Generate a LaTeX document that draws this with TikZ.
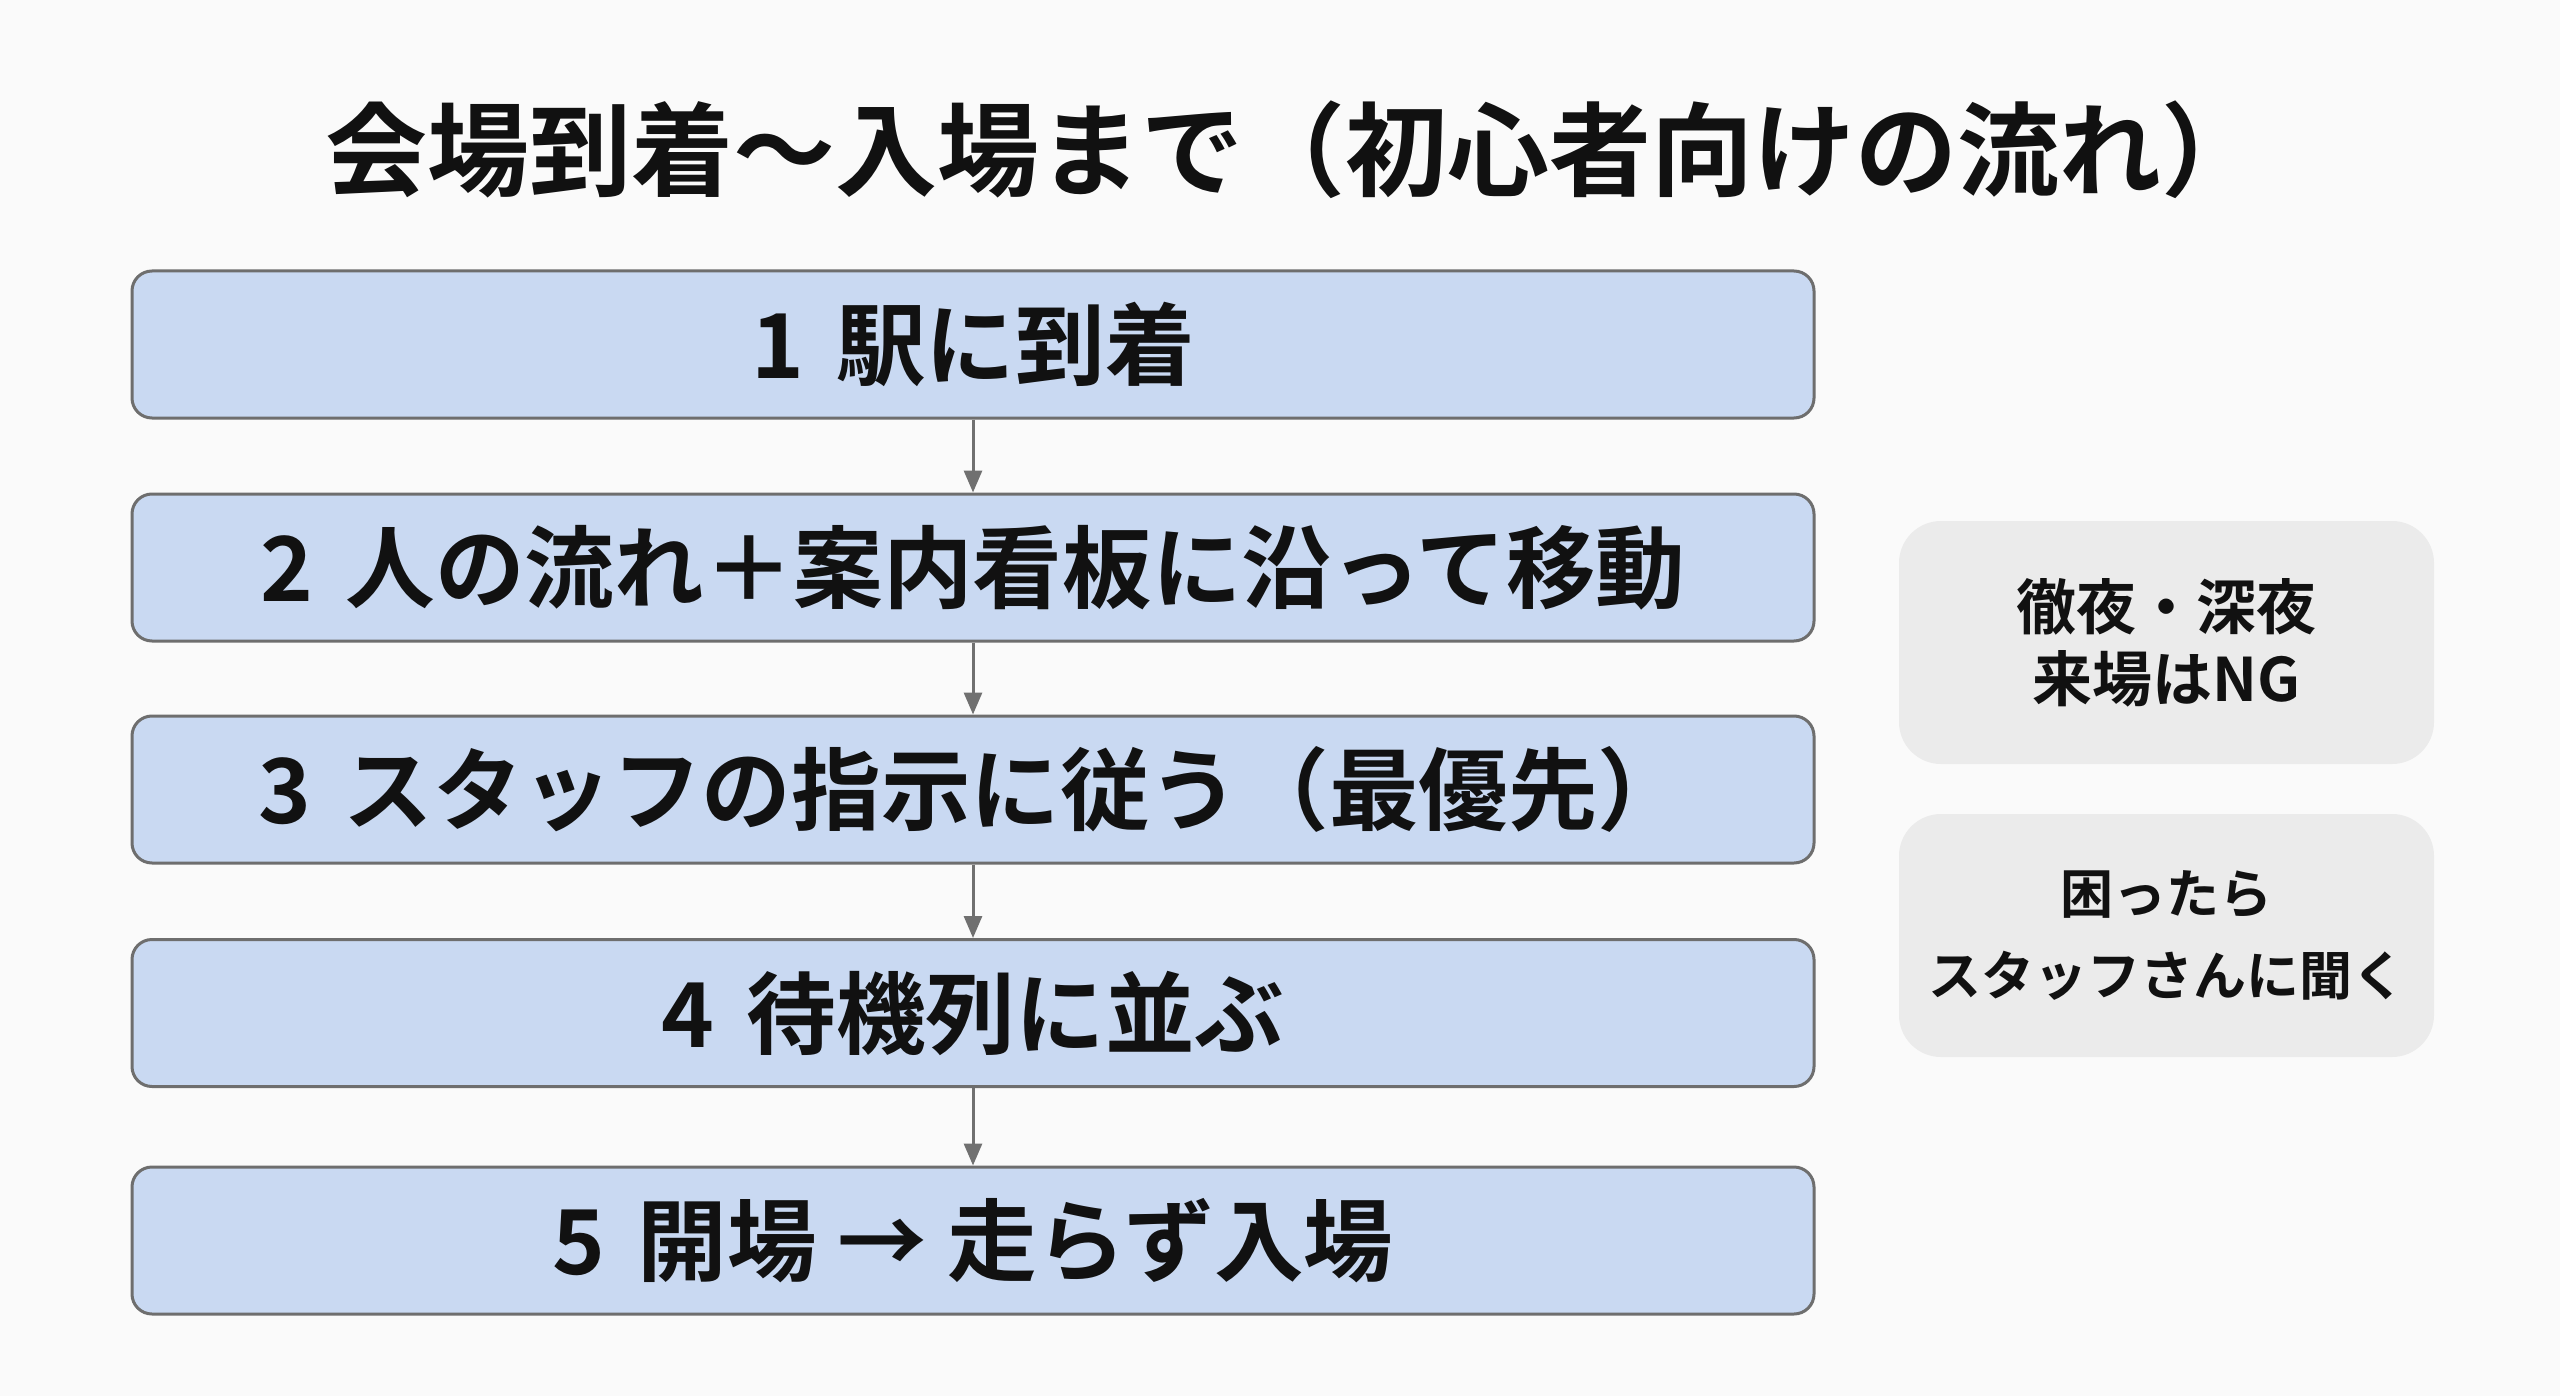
\documentclass[tikz,border=0pt]{standalone}
\usepackage{fontspec}
\setmainfont{Noto Sans CJK JP}[BoldFont={Noto Sans CJK JP Bold}]
\usetikzlibrary{arrows.meta}
\definecolor{bgc}{HTML}{FAFAFA}
\definecolor{stepfill}{HTML}{C9D9F2}
\definecolor{stepline}{HTML}{6E6E6E}
\definecolor{notefill}{HTML}{EBEBEB}
\definecolor{arrowc}{HTML}{707070}
\definecolor{txt}{HTML}{111111}
\newcommand{\numgap}{\hspace{16pt}}
\tikzset{
  stepbox/.style={draw=stepline, line width=1.5pt, fill=stepfill, rounded corners=10pt,
    minimum width=841pt, minimum height=73.5pt, inner sep=0pt, text=txt,
    font=\bfseries\fontsize{44.8pt}{50pt}\selectfont},
  notebox/.style={fill=notefill, rounded corners=21pt, minimum width=267.5pt,
    minimum height=121.5pt, inner sep=0pt, text=txt, align=center},
  flowarrow/.style={draw=arrowc, line width=1.5pt, -{Triangle[length=11pt,width=9pt]}}
}
\begin{document}
\begin{tikzpicture}[x=0.5pt,y=-0.5pt]
\fill[bgc] (0,0) rectangle (2560,1396);
\useasboundingbox (0,0) rectangle (2560,1396);
\node[text=txt, font=\bfseries\fontsize{51pt}{56pt}\selectfont] (title) at (1294,150) {会場到着〜入場まで（初心者向けの流れ）};
\node[stepbox] (s1) at (973,344.5) {1\numgap 駅に到着};
\node[stepbox] (s2) at (973,567.5) {2\numgap 人の流れ＋案内看板に沿って移動};
\node[stepbox] (s3) at (973,789.5) {3\numgap スタッフの指示に従う（最優先）};
\node[stepbox] (s4) at (973,1013) {4\numgap 待機列に並ぶ};
\node[stepbox] (s5) at (973,1240.5) {5\numgap 開場 → 走らず入場};
\draw[flowarrow] (s1) -- (s2);
\draw[flowarrow] (s2) -- (s3);
\draw[flowarrow] (s3) -- (s4);
\draw[flowarrow] (s4) -- (s5);
\node[notebox, font=\bfseries\fontsize{30pt}{36pt}\selectfont] (n1) at (2166.5,642.5) {徹夜・深夜\\来場はNG};
\node[notebox, font=\bfseries\fontsize{26.5pt}{41pt}\selectfont] (n2) at (2166.5,935.5) {困ったら\\スタッフさんに聞く};
\end{tikzpicture}
\end{document}
